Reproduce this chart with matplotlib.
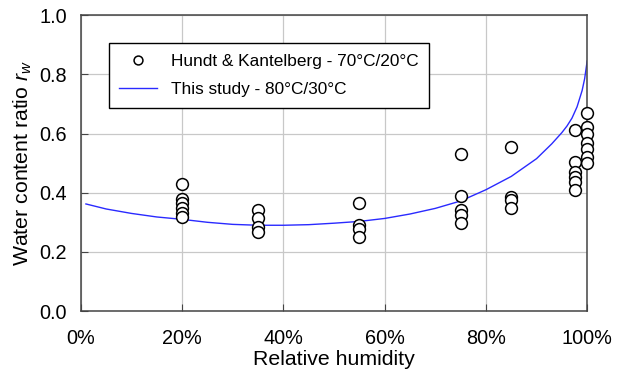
import matplotlib
matplotlib.use("Agg")
import matplotlib.pyplot as plt
from matplotlib.ticker import FuncFormatter, MultipleLocator

plt.rcParams['font.family'] = ['Liberation Sans', 'DejaVu Sans']
plt.rcParams['mathtext.fontset'] = 'custom'
plt.rcParams['mathtext.rm'] = 'Liberation Sans'
plt.rcParams['mathtext.it'] = 'Liberation Sans:italic'

# Hundt & Kantelberg data (relative humidity %, water content ratio)
hk_rh = [20]*6 + [35]*4 + [55]*4 + [75]*5 + [85]*4 + [97.5]*6 + [100]*7
hk_rw = [0.429, 0.38, 0.365, 0.348, 0.33, 0.318,
         0.341, 0.314, 0.284, 0.267,
         0.365, 0.29, 0.278, 0.25,
         0.53, 0.388, 0.341, 0.324, 0.297,
         0.555, 0.385, 0.375, 0.348,
         0.611, 0.503, 0.47, 0.453, 0.436, 0.409,
         0.669, 0.622, 0.598, 0.568, 0.547, 0.52, 0.5]

# This study curve
st_rh = [1, 5, 10, 15, 20, 25, 30, 35, 40, 45, 50, 55, 60, 65, 70, 75, 80,
         85, 90, 93, 95, 96, 97, 98, 99, 99.5, 100]
st_rw = [0.362, 0.345, 0.33, 0.318, 0.31, 0.30, 0.293, 0.29, 0.29, 0.292,
         0.297, 0.303, 0.313, 0.328, 0.347, 0.372, 0.41, 0.455, 0.515,
         0.565, 0.603, 0.625, 0.652, 0.69, 0.745, 0.785, 0.845]

fig = plt.figure(figsize=(6.22, 3.78), dpi=100)
ax = fig.add_axes([0.130, 0.177, 0.814, 0.783])

ax.grid(True, color='#c8c8c8', linewidth=0.9, zorder=0)
ax.plot(st_rh, st_rw, color='#2a2aff', linewidth=1.0, zorder=2,
        label='This study - 80°C/30°C')
ax.plot(hk_rh, hk_rw, linestyle='none', marker='o', markersize=8.5,
        markerfacecolor='white', markeredgecolor='black', markeredgewidth=1.1,
        zorder=3, label='Hundt & Kantelberg - 70°C/20°C', clip_on=False)

ax.set_xlim(0, 100)
ax.set_ylim(0, 1.0)
ax.xaxis.set_major_locator(MultipleLocator(20))
ax.yaxis.set_major_locator(MultipleLocator(0.2))
ax.xaxis.set_major_formatter(FuncFormatter(lambda v, p: f"{int(round(v))}%"))
ax.yaxis.set_major_formatter(FuncFormatter(lambda v, p: f"{v:.1f}"))
ax.tick_params(axis='both', direction='in', length=5, labelsize=14.3,
               color='#444444')
ax.tick_params(axis='x', pad=13)
ax.tick_params(axis='y', pad=10)
for s in ax.spines.values():
    s.set_color('#444444')
    s.set_linewidth(1.1)

ax.set_xlabel('Relative humidity', fontsize=15.3, labelpad=1)
ax.set_ylabel('Water content ratio $r_w$', fontsize=15.3, labelpad=4)

handles, labels = ax.get_legend_handles_labels()
leg = ax.legend(handles[::-1], labels[::-1], loc='upper left',
                bbox_to_anchor=(0.055, 0.905), fontsize=12.4, frameon=True,
                fancybox=False, edgecolor='black', framealpha=1,
                borderpad=0.6, handlelength=2.2, labelspacing=0.8,
                markerscale=0.75, borderaxespad=0)
leg.get_frame().set_linewidth(1.0)

fig.savefig('out.png', dpi=100)
